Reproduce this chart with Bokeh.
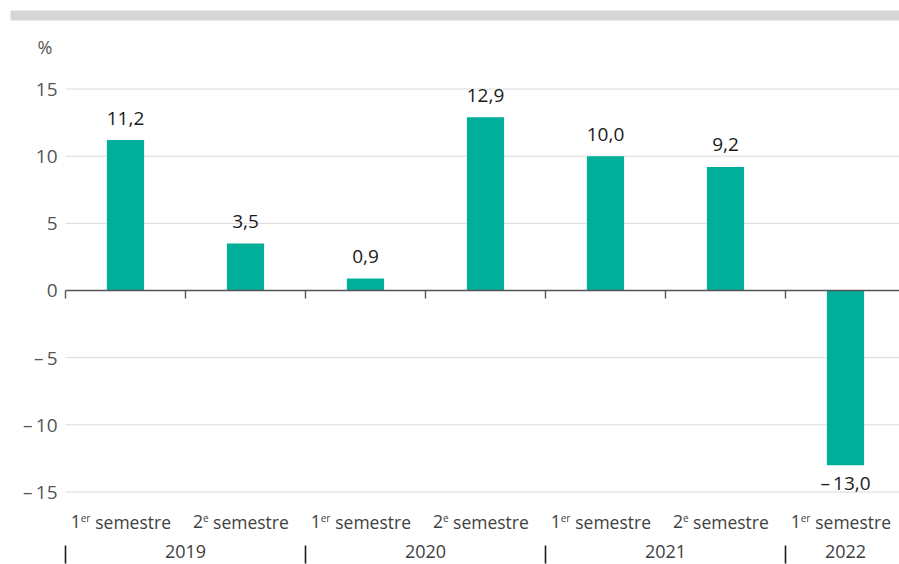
from bokeh.plotting import figure
from bokeh.models import Range1d, ColumnDataSource
from bokeh.embed import file_html
from bokeh.resources import INLINE
from bokeh.core.properties import value

# ---------------- data ----------------
values = [11.2, 3.5, 0.9, 12.9, 10.0, 9.2, -13.0]
sem_num = ["1", "2", "1", "2", "1", "2", "1"]
sem_sup = ["er", "e", "er", "e", "er", "e", "er"]
sem_word = "semestre"
years = ["2019", "2020", "2021", "2022"]
year_span = [2, 2, 2, 1]
y_ticks = [-15, -10, -5, 0, 5, 10, 15]
unit_label = "%"

# ---------------- layout / style ----------------
W, H = 899, 564
LEFT = 65          # px from figure left to first category boundary
CAT = 120          # px per category
ZERO = 290         # px from figure top to value 0
YS = 403 / 30      # px per unit on y
FONT = "Open Sans"
TEAL = "#00ae99"
GRID = "#dadada"
AXIS = "#555555"
TXT = "#404040"

x0, x1 = -LEFT / CAT, (W - LEFT) / CAT
y0, y1 = -(H - ZERO) / YS, ZERO / YS


def dy(px):
    return px / YS


p = figure(width=W, height=H, x_range=Range1d(x0, x1), y_range=Range1d(y0, y1),
           output_backend="svg", toolbar_location=None,
           x_axis_type=None, y_axis_type=None, min_border=0)
p.grid.visible = False
p.outline_line_color = None
p.background_fill_color = "white"
p.border_fill_color = "white"

n = len(values)
xs = [i + 0.5 for i in range(n)]

# top gray band
p.quad(left=[x0 + 10 / CAT], right=[x1], top=[y1 - dy(10)], bottom=[y1 - dy(20)],
       fill_color="#d6d6d6", line_color=None)

# gridlines
grid_ticks = [t for t in y_ticks if t != 0]
p.segment(x0=[0] * len(grid_ticks), x1=[x1] * len(grid_ticks), y0=grid_ticks, y1=grid_ticks,
          line_color=GRID, line_width=1)

# bars
p.vbar(x=xs, top=values, bottom=0, width=0.31, fill_color=TEAL, line_color=None)

# zero line + category ticks
p.segment(x0=[0], x1=[x1], y0=[0], y1=[0], line_color=AXIS, line_width=1.4)
p.segment(x0=list(range(n)), x1=list(range(n)), y0=[0] * n, y1=[-dy(8)] * n,
          line_color=AXIS, line_width=1.4)


def fr(v):
    s = f"{abs(v):.1f}".replace(".", ",")
    return ("\u2013\u2009" if v < 0 else "") + s


# value labels
lab_y = [v + dy(22) if v >= 0 else v - dy(18) for v in values]
p.text(x=xs, y=lab_y, text=[fr(v) for v in values], text_align="center",
       text_baseline="middle", text_font=value(FONT), text_font_size="19px",
       text_color="#1a1a1a")

# y tick labels
tick_txt = [("\u2013\u2009" + str(abs(t))) if t < 0 else str(t) for t in y_ticks]
p.text(x=[0] * len(y_ticks), y=y_ticks, text=tick_txt, x_offset=-8,
       text_align="right", text_baseline="middle", text_font=value(FONT),
       text_font_size="19px", text_color=AXIS)

# unit label
p.text(x=[0], y=[dy(290 - 46)], text=[unit_label], x_offset=-28,
       text_align="left", text_baseline="middle", text_font=value(FONT),
       text_font_size="18px", text_color=AXIS)

# category labels (number + superscript + word)
cat_y = -dy(521 - 290)
NUMW, GAP, WORDW = 9.7, 4.5, 72.7
SUPW = {"er": 10.0, "e": 5.6}
word_off, num_off = [], []
for s in sem_sup:
    tot = NUMW + SUPW[s] + GAP + WORDW
    st = -6 - tot / 2 + NUMW + SUPW[s] + GAP
    word_off.append(st)
    num_off.append(st - GAP - SUPW[s])

src = ColumnDataSource(dict(x=xs, word=[sem_word] * n, num=sem_num, sup=sem_sup,
                            wo=word_off, no=num_off))
p.text(x="x", y=cat_y, text="word", x_offset="wo", source=src, text_align="left",
       text_baseline="middle", text_font=value(FONT), text_font_size="17.5px",
       text_color=TXT)
p.text(x="x", y=cat_y, text="num", x_offset="no", source=src, text_align="right",
       text_baseline="middle", text_font=value(FONT), text_font_size="17.5px",
       text_color=TXT)
p.text(x="x", y=cat_y + dy(4), text="sup", x_offset="no", source=src, text_align="left",
       text_baseline="middle", text_font=value(FONT), text_font_size="10px",
       text_color=TXT)

# year labels and separators
starts, centers = [], []
acc = 0
for sp in year_span:
    starts.append(acc)
    centers.append(acc + sp / 2)
    acc += sp
p.segment(x0=starts, x1=starts, y0=[-dy(545 - 290)] * len(starts),
          y1=[-dy(563 - 290)] * len(starts), line_color="#1a1a1a", line_width=1.6)
p.text(x=centers, y=[-dy(551 - 290)] * len(centers), text=years, text_align="center",
       text_baseline="middle", text_font=value(FONT), text_font_size="18px",
       text_color=TXT)

open("out.html", "w").write(file_html(p, INLINE))
